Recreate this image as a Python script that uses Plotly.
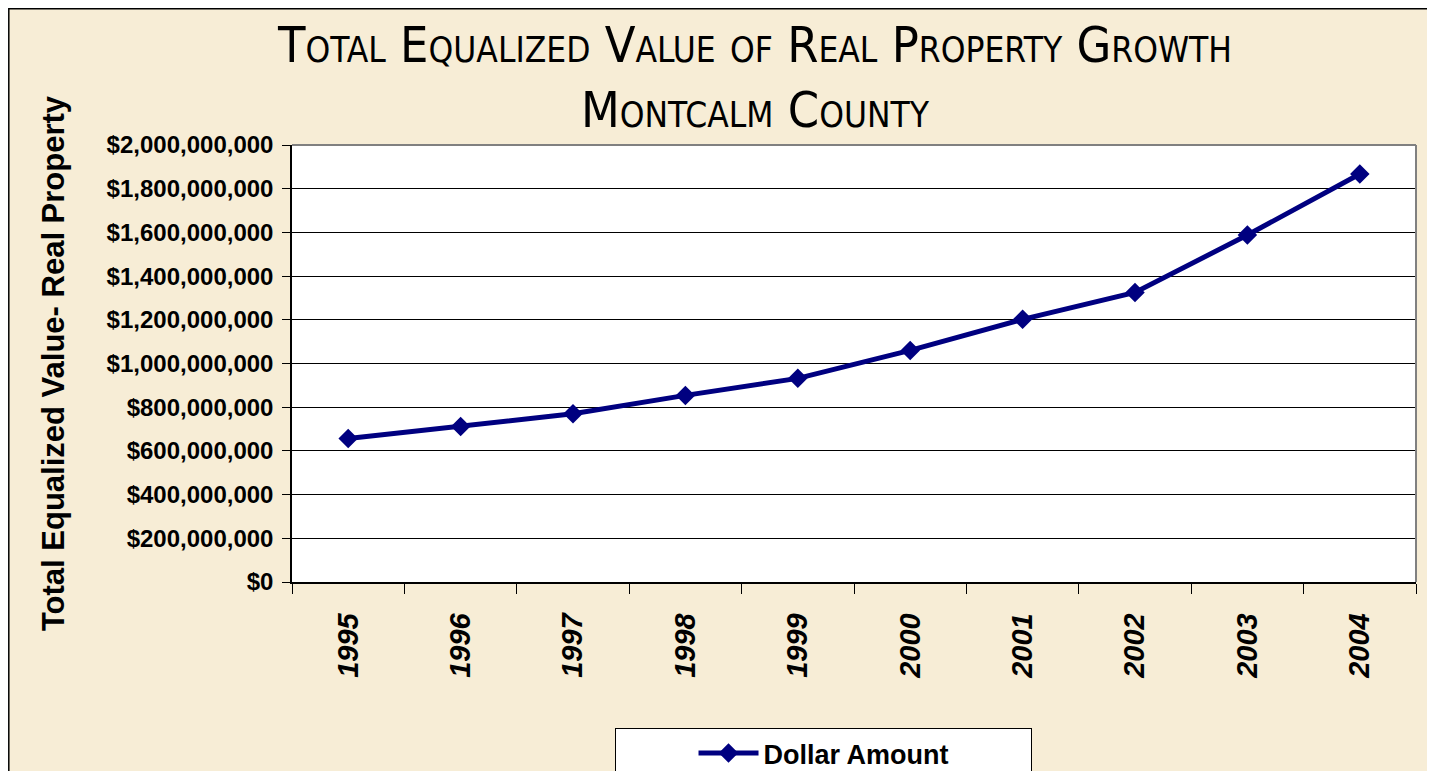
import plotly.graph_objects as go

years = ["1995", "1996", "1997", "1998", "1999", "2000", "2001", "2002", "2003", "2004"]
dollar_amount = [657e6, 712e6, 770e6, 854e6, 932e6, 1060e6, 1202e6, 1325e6, 1588e6, 1867e6]
y_ticks = [0, 2e8, 4e8, 6e8, 8e8, 1e9, 1.2e9, 1.4e9, 1.6e9, 1.8e9, 2e9]

# the page body has an 8px margin, so the figure starts at (8, 8) on screen
OFF = 8
W, H = 1435 - OFF, 771 - OFF
L, R, T, B = 292 - OFF, 19, 145 - OFF, 189
pw, ph = W - L - R, H - T - B

def px_x(sx):
    return (sx - OFF - L) / pw

def px_y(sy):
    return (H - B - (sy - OFF)) / ph

fig = go.Figure()
fig.add_trace(go.Scatter(
    x=years, y=dollar_amount, name="Dollar Amount", mode="lines+markers",
    line=dict(color="#000080", width=5),
    marker=dict(symbol="diamond", size=15, color="#000080"),
))

bold = dict(family="Liberation Sans, Arial, sans-serif", color="black", weight="bold")

fig.update_layout(
    width=W, height=H,
    margin=dict(l=L, r=R, t=T, b=B, autoexpand=False),
    paper_bgcolor="#F7EDD6",
    plot_bgcolor="white",
    title=dict(
        text="Total Equalized Value of Real Property Growth<br>Montcalm County",
        x=(755 - OFF) / W, xanchor="center", y=1 - (62 - OFF) / H, yanchor="middle",
        font=dict(family="Liberation Sans Narrow, DejaVu Sans Condensed, Arial Narrow, sans-serif",
                  size=50, color="black", variant="small-caps"),
    ),
    xaxis=dict(
        type="category", range=[-0.5, len(years) - 0.5],
        tickangle=-90, tickson="boundaries",
        ticks="outside", ticklen=10, tickcolor="black",
        showline=True, linecolor="black", linewidth=1.5,
        showgrid=False, ticklabelstandoff=18, automargin=False,
        tickfont=dict(size=29, style="italic", **bold),
    ),
    yaxis=dict(
        range=[0, 2e9], tickvals=y_ticks, tickformat="$,.0f",
        ticks="outside", ticklen=8, tickcolor="black",
        showline=True, linecolor="black", linewidth=1.5,
        showgrid=True, gridcolor="black", gridwidth=1,
        zeroline=False, automargin=False, ticklabelstandoff=4,
        tickfont=dict(size=24, **bold),
        title=dict(text="Total Equalized Value- Real Property", standoff=33,
                   font=dict(size=31, **bold)),
    ),
    showlegend=True,
    legend=dict(
        x=px_x(615), y=px_y(728), xanchor="left", yanchor="top",
        orientation="h", bgcolor="white", bordercolor="black", borderwidth=1,
        itemwidth=60, entrywidth=262,
        title=dict(text="\u00a0" * 9, side="left", font=dict(size=27, **bold)),
        font=dict(size=27, **bold),
    ),
    shapes=[
        dict(type="line", xref="paper", yref="paper", x0=0, x1=1, y0=1, y1=1,
             line=dict(color="#808080", width=2)),
        dict(type="line", xref="paper", yref="paper", x0=1, x1=1, y0=0, y1=1,
             line=dict(color="#808080", width=2)),
        dict(type="rect", xref="paper", yref="paper",
             x0=px_x(8.8), x1=px_x(1430), y0=px_y(8.8), y1=px_y(800),
             line=dict(color="black", width=1.5), layer="below"),
    ],
)

fig.write_html("out.html")
